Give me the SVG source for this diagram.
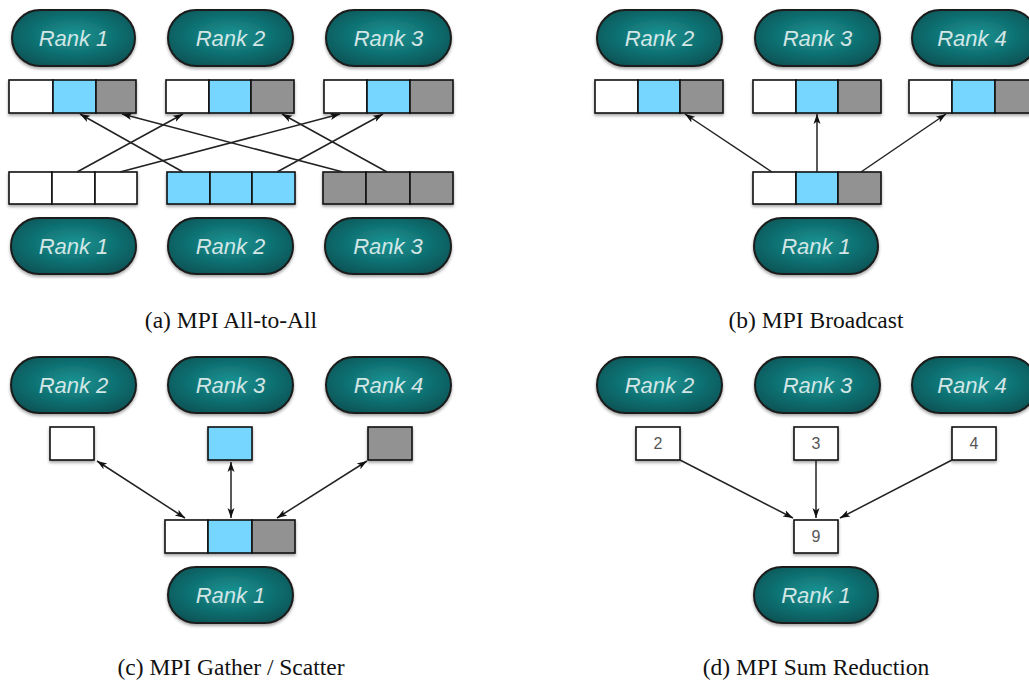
<svg xmlns="http://www.w3.org/2000/svg" width="1029" height="682" viewBox="0 0 1029 682">
<defs>
<radialGradient id="tealG" cx="50%" cy="45%" r="60%">
<stop offset="0" stop-color="#189494"/>
<stop offset="1" stop-color="#0a5557"/>
</radialGradient>
<filter id="sh" x="-20%" y="-20%" width="140%" height="150%">
<feDropShadow dx="0" dy="2" stdDeviation="1.5" flood-color="#000" flood-opacity="0.35"/>
</filter>
<marker id="ah" viewBox="0 0 10 10" refX="10" refY="5" markerWidth="10" markerHeight="10" markerUnits="userSpaceOnUse" orient="auto-start-reverse">
<path d="M0,1.5 L10,5 L0,8.5 L2.5,5 Z" fill="#111"/>
</marker>
<style>
.pill{fill:url(#tealG);stroke:#1c1c1c;stroke-width:2;filter:url(#sh)}
.pl{font-family:"Liberation Sans",Arial,sans-serif;font-style:italic;font-size:22px;fill:#d3e6e6;text-anchor:middle}
.cw{fill:#ffffff;stroke:#111;stroke-width:1.6}
.cb{fill:#76d6ff;stroke:#111;stroke-width:1.6}
.cg{fill:#929292;stroke:#111;stroke-width:1.6}
.arr{filter:url(#sh)}
.num{font-family:"Liberation Sans",Arial,sans-serif;font-size:16px;fill:#555;text-anchor:middle}
.cap{font-family:"Liberation Serif","Times New Roman",serif;font-size:23.5px;fill:#111;text-anchor:middle}
.ln{stroke:#222;stroke-width:1.5;fill:none}
.one{marker-end:url(#ah)}
.two{marker-start:url(#ah);marker-end:url(#ah)}
</style>
</defs>

<!-- Panel (a) -->
<g id="a-top-rank1"><rect class="pill" x="12" y="10" width="123" height="56" rx="28"/><text class="pl" x="73.5" y="46">Rank 1</text></g>
<g id="a-top-rank2"><rect class="pill" x="168" y="10" width="125" height="56" rx="28"/><text class="pl" x="230.5" y="46">Rank 2</text></g>
<g id="a-top-rank3"><rect class="pill" x="326" y="10" width="125" height="56" rx="28"/><text class="pl" x="388.5" y="46">Rank 3</text></g>

<g id="a-top-arr1" class="arr"><rect class="cw" x="9" y="80" width="44" height="33"/><rect class="cb" x="53" y="80" width="43" height="33"/><rect class="cg" x="96" y="80" width="40" height="33"/></g>
<g id="a-top-arr2" class="arr"><rect class="cw" x="166" y="80" width="43" height="33"/><rect class="cb" x="209" y="80" width="42" height="33"/><rect class="cg" x="251" y="80" width="43" height="33"/></g>
<g id="a-top-arr3" class="arr"><rect class="cw" x="324" y="80" width="43" height="33"/><rect class="cb" x="367" y="80" width="43" height="33"/><rect class="cg" x="410" y="80" width="43" height="33"/></g>

<g id="a-bot-arr1" class="arr"><rect class="cw" x="9" y="172" width="43" height="32"/><rect class="cw" x="52" y="172" width="43" height="32"/><rect class="cw" x="95" y="172" width="42" height="32"/></g>
<g id="a-bot-arr2" class="arr"><rect class="cb" x="167" y="172" width="43" height="32"/><rect class="cb" x="210" y="172" width="42" height="32"/><rect class="cb" x="252" y="172" width="43" height="32"/></g>
<g id="a-bot-arr3" class="arr"><rect class="cg" x="323" y="172" width="43" height="32"/><rect class="cg" x="366" y="172" width="44" height="32"/><rect class="cg" x="410" y="172" width="43" height="32"/></g>

<g id="a-bot-rank1"><rect class="pill" x="11" y="218" width="125" height="56" rx="28"/><text class="pl" x="73.5" y="254">Rank 1</text></g>
<g id="a-bot-rank2"><rect class="pill" x="168" y="218" width="125" height="56" rx="28"/><text class="pl" x="230.5" y="254">Rank 2</text></g>
<g id="a-bot-rank3"><rect class="pill" x="325" y="218" width="126" height="56" rx="28"/><text class="pl" x="388" y="254">Rank 3</text></g>

<!-- Panel (b) -->
<g id="b-top-rank2"><rect class="pill" x="597" y="10" width="125" height="56" rx="28"/><text class="pl" x="659.5" y="46">Rank 2</text></g>
<g id="b-top-rank3"><rect class="pill" x="755" y="10" width="125" height="56" rx="28"/><text class="pl" x="817.5" y="46">Rank 3</text></g>
<g id="b-top-rank4"><rect class="pill" x="912" y="10" width="125" height="56" rx="28"/><text class="pl" x="972" y="46">Rank 4</text></g>

<g id="b-top-arr1" class="arr"><rect class="cw" x="595" y="80" width="43" height="33"/><rect class="cb" x="638" y="80" width="42" height="33"/><rect class="cg" x="680" y="80" width="43" height="33"/></g>
<g id="b-top-arr2" class="arr"><rect class="cw" x="753" y="80" width="43" height="33"/><rect class="cb" x="796" y="80" width="42" height="33"/><rect class="cg" x="838" y="80" width="43" height="33"/></g>
<g id="b-top-arr3" class="arr"><rect class="cw" x="909" y="80" width="43" height="33"/><rect class="cb" x="952" y="80" width="43" height="33"/><rect class="cg" x="995" y="80" width="43" height="33"/></g>

<g id="b-bot-arr" class="arr"><rect class="cw" x="753" y="172" width="43" height="32"/><rect class="cb" x="796" y="172" width="42" height="32"/><rect class="cg" x="838" y="172" width="43" height="32"/></g>
<g id="b-bot-rank1"><rect class="pill" x="754" y="218" width="124" height="56" rx="28"/><text class="pl" x="816" y="254">Rank 1</text></g>

<!-- Panel (c) -->
<g id="c-top-rank2"><rect class="pill" x="11" y="357" width="125" height="56" rx="28"/><text class="pl" x="73.5" y="393">Rank 2</text></g>
<g id="c-top-rank3"><rect class="pill" x="168" y="357" width="125" height="56" rx="28"/><text class="pl" x="230.5" y="393">Rank 3</text></g>
<g id="c-top-rank4"><rect class="pill" x="326" y="357" width="125" height="56" rx="28"/><text class="pl" x="388.5" y="393">Rank 4</text></g>

<g id="c-box2" class="arr"><rect class="cw" x="50" y="427" width="44" height="33"/></g>
<g id="c-box3" class="arr"><rect class="cb" x="208" y="427" width="44" height="33"/></g>
<g id="c-box4" class="arr"><rect class="cg" x="368" y="427" width="44" height="33"/></g>

<g id="c-bot-arr" class="arr"><rect class="cw" x="165" y="520" width="43" height="33"/><rect class="cb" x="208" y="520" width="44" height="33"/><rect class="cg" x="252" y="520" width="43" height="33"/></g>
<g id="c-bot-rank1"><rect class="pill" x="168" y="567" width="125" height="56" rx="28"/><text class="pl" x="230.5" y="603">Rank 1</text></g>

<!-- Panel (d) -->
<g id="d-top-rank2"><rect class="pill" x="597" y="357" width="125" height="56" rx="28"/><text class="pl" x="659.5" y="393">Rank 2</text></g>
<g id="d-top-rank3"><rect class="pill" x="755" y="357" width="125" height="56" rx="28"/><text class="pl" x="817.5" y="393">Rank 3</text></g>
<g id="d-top-rank4"><rect class="pill" x="912" y="357" width="125" height="56" rx="28"/><text class="pl" x="972" y="393">Rank 4</text></g>

<g id="d-box2"><rect class="cw arr" x="636" y="427" width="44" height="33"/><text class="num" x="658" y="449">2</text></g>
<g id="d-box3"><rect class="cw arr" x="794" y="427" width="44" height="33"/><text class="num" x="816" y="449">3</text></g>
<g id="d-box4"><rect class="cw arr" x="952" y="427" width="44" height="33"/><text class="num" x="974" y="449">4</text></g>
<g id="d-box9"><rect class="cw arr" x="794" y="520" width="44" height="33"/><text class="num" x="816" y="542">9</text></g>
<g id="d-bot-rank1"><rect class="pill" x="754" y="567" width="124" height="56" rx="28"/><text class="pl" x="816" y="603">Rank 1</text></g>

<!-- Connectors -->
<g id="connectors">
<line class="ln one" x1="77" y1="172" x2="183" y2="114"/>
<line class="ln one" x1="120" y1="172" x2="340" y2="114"/>
<line class="ln one" x1="183" y1="172" x2="80" y2="114"/>
<line class="ln one" x1="277" y1="172" x2="383" y2="114"/>
<line class="ln one" x1="343" y1="172" x2="122" y2="114"/>
<line class="ln one" x1="387" y1="172" x2="282" y2="114"/>

<line class="ln one" x1="772" y1="172" x2="685" y2="114"/>
<line class="ln one" x1="817" y1="172" x2="817" y2="114"/>
<line class="ln one" x1="861" y1="172" x2="946" y2="114"/>

<line class="ln two" x1="97" y1="461" x2="185" y2="518"/>
<line class="ln two" x1="231" y1="462" x2="231" y2="518"/>
<line class="ln two" x1="367" y1="461" x2="277" y2="518"/>

<line class="ln one" x1="680" y1="460" x2="793" y2="518"/>
<line class="ln one" x1="816" y1="460" x2="816" y2="518"/>
<line class="ln one" x1="952" y1="460" x2="840" y2="518"/>
</g>

<!-- Captions -->
<g id="captions">
<text class="cap" x="231" y="328">(a) MPI All-to-All</text>
<text class="cap" x="816" y="328">(b) MPI Broadcast</text>
<text class="cap" x="231" y="675">(c) MPI Gather / Scatter</text>
<text class="cap" x="816" y="675">(d) MPI Sum Reduction</text>
</g>
</svg>
